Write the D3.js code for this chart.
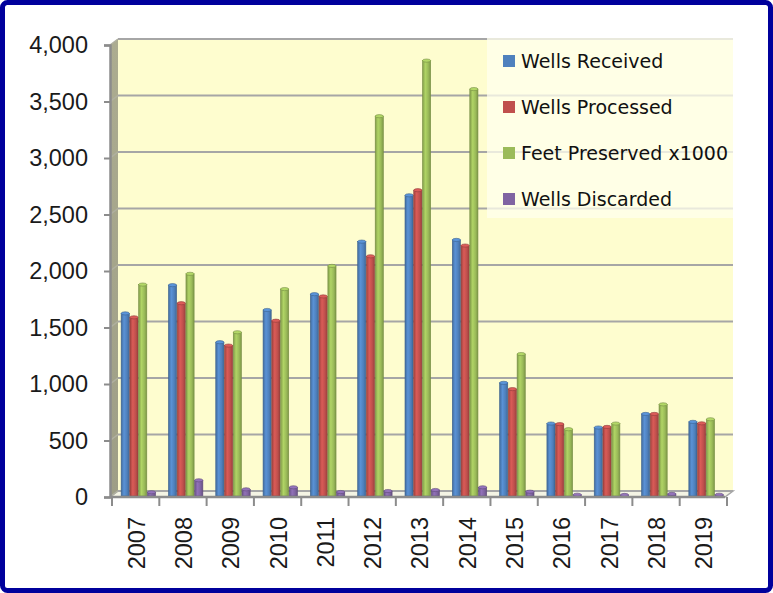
<!DOCTYPE html>
<html>
<head>
<meta charset="utf-8">
<script src="https://cdn.jsdelivr.net/npm/d3@7"></script>
<style>
  html, body { margin: 0; padding: 0; background: #fff; }
  svg { display: block; }
</style>
</head>
<body>
<svg id="chart"></svg>
<script>
const width = 773;
const height = 593;

// data
const years = ["2007", "2008", "2009", "2010", "2011", "2012", "2013",
  "2014", "2015", "2016", "2017", "2018", "2019"];
const seriesNames = ["Wells Received", "Wells Processed", "Feet Preserved x1000", "Wells Discarded"];
const wellsReceived = [1625, 1875, 1370, 1655, 1795, 2260, 2670, 2275, 1010, 650, 615, 735, 665];
const wellsProcessed = [1590, 1715, 1340, 1560, 1775, 2130, 2715, 2225, 955, 645, 620, 735, 652];
const feetPreserved = [1880, 1975, 1458, 1840, 2045, 3370, 3862, 3610, 1265, 600, 650, 820, 688];
const wellsDiscarded = [42, 148, 68, 86, 44, 53, 62, 86, 47, 20, 18, 27, 20];
const yTicks = [0, 500, 1000, 1500, 2000, 2500, 3000, 3500, 4000];
const colors = ["#4f81bd", "#c0504d", "#9bbb59", "#8064a2"];

const allSeries = [wellsReceived, wellsProcessed, feetPreserved, wellsDiscarded];

const svg = d3.select("#chart")
  .attr("width", width)
  .attr("height", height)
  .style("font-family", "'Liberation Sans', Arial, sans-serif");

/* ---------------------------
Scales (front plane + 3D depth offset)
--------------------------- */

const depthX = 8;
const depthY = -6;

const x0 = d3.scaleBand()
  .domain(years)
  .range([112, 727])
  .paddingInner(0.26)
  .paddingOuter(0.13);

const x1 = d3.scaleBand()
  .domain(d3.range(4))
  .range([0, x0.bandwidth()]);

const y = d3.scaleLinear()
  .domain([0, 4000])
  .range([497, 45]);

const left = 110;
const right = 725;

/* ---------------------------
Gradients
--------------------------- */

const defs = svg.append("defs");

colors.forEach((c, i) => {
  const g = defs.append("linearGradient")
    .attr("id", "bar" + i)
    .attr("x1", 0).attr("x2", 1).attr("y1", 0).attr("y2", 0);
  const base = d3.color(c);
  g.append("stop").attr("offset", "0%").attr("stop-color", base.darker(0.5));
  g.append("stop").attr("offset", "35%").attr("stop-color", base.brighter(0.35));
  g.append("stop").attr("offset", "70%").attr("stop-color", base);
  g.append("stop").attr("offset", "100%").attr("stop-color", base.darker(0.6));
});

const sideGrad = defs.append("linearGradient")
  .attr("id", "side")
  .attr("x1", 0).attr("x2", 0).attr("y1", 0).attr("y2", 1);
sideGrad.append("stop").attr("offset", "0%").attr("stop-color", "#acac90");
sideGrad.append("stop").attr("offset", "100%").attr("stop-color", "#9e9e86");

/* ---------------------------
Walls and floor
--------------------------- */

// back wall
svg.append("rect")
  .attr("x", left + depthX)
  .attr("y", y(4000) + depthY)
  .attr("width", right - left)
  .attr("height", y(0) - y(4000))
  .attr("fill", "#fefdcf");

// side wall
svg.append("path")
  .attr("d", `M${left},${y(0)} L${left},${y(4000)} L${left + depthX},${y(4000) + depthY} L${left + depthX},${y(0) + depthY} Z`)
  .attr("fill", "url(#side)");

// floor
svg.append("path")
  .attr("d", `M${left},${y(0)} L${right},${y(0)} L${right + depthX},${y(0) + depthY} L${left + depthX},${y(0) + depthY} Z`)
  .attr("fill", "#f4f4e4")
  .attr("stroke", "#a6a6a6")
  .attr("stroke-width", 1.5);

// gridlines on back wall + side wall
const grid = svg.append("g");
yTicks.forEach(t => {
  grid.append("line")
    .attr("x1", left + depthX).attr("x2", right + depthX)
    .attr("y1", y(t) + depthY).attr("y2", y(t) + depthY)
    .attr("stroke", "#a6a6a6")
    .attr("stroke-width", 2);
  grid.append("line")
    .attr("x1", left).attr("x2", left + depthX)
    .attr("y1", y(t)).attr("y2", y(t) + depthY)
    .attr("stroke", "#b0b0a0")
    .attr("stroke-width", 1.5);
});

/* ---------------------------
Bars
--------------------------- */

const barShift = 3;

const groups = svg.append("g")
  .selectAll("g")
  .data(years)
  .enter()
  .append("g")
  .attr("transform", d => `translate(${x0(d) + barShift},0)`);

allSeries.forEach((vals, si) => {
  const w = x1.bandwidth() - 0.6;
  groups.append("rect")
    .attr("x", x1(si))
    .attr("y", (d, i) => y(vals[i]))
    .attr("width", w)
    .attr("height", (d, i) => Math.max(0, y(0) - 1 - y(vals[i])))
    .attr("fill", `url(#bar${si})`)
    .attr("stroke", d3.color(colors[si]).darker(0.8))
    .attr("stroke-width", 0.6);
  groups.append("ellipse")
    .attr("cx", x1(si) + w / 2)
    .attr("cy", (d, i) => y(vals[i]))
    .attr("rx", w / 2)
    .attr("ry", 1.6)
    .attr("fill", d3.color(colors[si]).brighter(0.4))
    .attr("stroke", d3.color(colors[si]).darker(0.8))
    .attr("stroke-width", 0.6);
});

/* ---------------------------
Axes
--------------------------- */

const yAxis = svg.append("g")
  .attr("transform", `translate(${left},0)`)
  .call(d3.axisLeft(y).tickValues(yTicks).tickSize(6).tickPadding(16)
    .tickFormat(d3.format(",")));

yAxis.select(".domain").attr("stroke", "#8c8c8c").attr("stroke-width", 2.5);
yAxis.selectAll(".tick line").attr("stroke", "#8c8c8c").attr("stroke-width", 2);
yAxis.selectAll(".tick text")
  .attr("fill", "#1a1a1a")
  .style("font-size", "23.5px")
  .style("font-family", "'Liberation Sans', Arial, sans-serif");

const xAxis = svg.append("g")
  .attr("transform", `translate(0,${y(0)})`);

xAxis.append("line")
  .attr("x1", left).attr("x2", right)
  .attr("stroke", "#8c8c8c")
  .attr("stroke-width", 2.5);

xAxis.selectAll(".xtick")
  .data(years.concat(["end"]))
  .enter()
  .append("line")
  .attr("x1", (d, i) => 112 + i * x0.step())
  .attr("x2", (d, i) => 112 + i * x0.step())
  .attr("y1", 0).attr("y2", 9)
  .attr("stroke", "#8c8c8c")
  .attr("stroke-width", 2);

xAxis.selectAll(".xlabel")
  .data(years)
  .enter()
  .append("text")
  .attr("transform", d => `translate(${x0(d) + x0.bandwidth() / 2 + 0.5},20) rotate(-90)`)
  .attr("text-anchor", "end")
  .attr("dy", "0.36em")
  .attr("fill", "#1a1a1a")
  .style("font-size", "23.5px")
  .text(d => d);

/* ---------------------------
Legend
--------------------------- */

const legend = svg.append("g");

legend.append("rect")
  .attr("x", 487)
  .attr("y", 38)
  .attr("width", 246)
  .attr("height", 180)
  .attr("fill", "#ffffee")
  .attr("opacity", 0.75);

seriesNames.forEach((name, i) => {
  const ly = 61 + i * 46;
  legend.append("rect")
    .attr("x", 503)
    .attr("y", ly - 6)
    .attr("width", 12)
    .attr("height", 12)
    .attr("fill", colors[i]);
  legend.append("text")
    .attr("x", 521)
    .attr("y", ly)
    .attr("dy", "0.36em")
    .attr("fill", "#111")
    .style("font-family", "'DejaVu Sans', sans-serif")
    .style("font-size", "19px")
    .text(name);
});

/* ---------------------------
Frame
--------------------------- */

svg.append("rect")
  .attr("x", 2.5)
  .attr("y", 2.5)
  .attr("width", width - 5)
  .attr("height", height - 5)
  .attr("rx", 5)
  .attr("fill", "none")
  .attr("stroke", "#00009c")
  .attr("stroke-width", 5);
</script>
</body>
</html>
